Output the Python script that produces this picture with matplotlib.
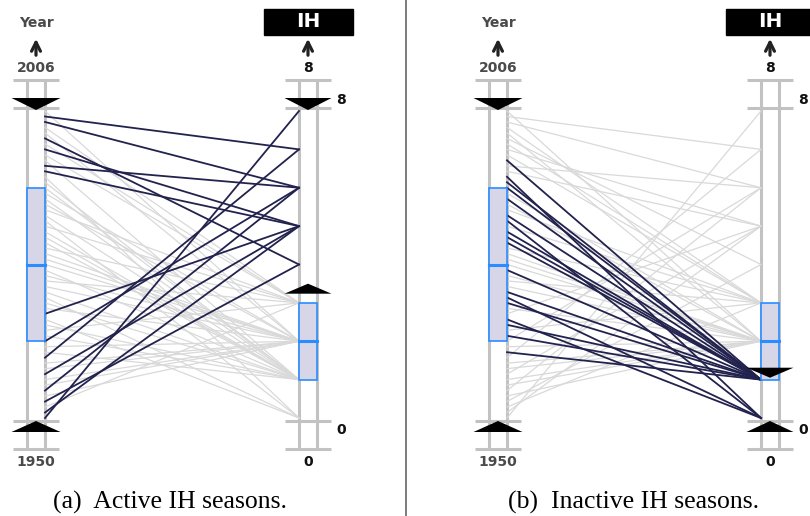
import numpy as np
import matplotlib
matplotlib.use("Agg")
import matplotlib.pyplot as plt
from matplotlib.patches import Rectangle, Polygon
from matplotlib.lines import Line2D

# Atlantic seasons and their count of intense hurricanes (IH)
years = list(range(1950, 2007))
ih = [8, 5, 3, 4, 2, 6, 2, 2, 5, 2,
      2, 7, 1, 2, 6, 1, 3, 1, 0, 5,
      2, 1, 0, 1, 2, 3, 2, 1, 2, 2,
      2, 3, 1, 1, 1, 3, 0, 1, 3, 2,
      1, 2, 1, 1, 0, 5, 6, 1, 3, 5,
      3, 4, 2, 3, 6, 7, 2]
year_range = (1950, 2006)
ih_range = (0, 8)
captions = ["(a)  Active IH seasons.", "(b)  Inactive IH seasons."]
brushes = [(3.5, 8), (0, 1.05)]   # IH range kept by the brush in each panel

years = np.array(years)
ih = np.array(ih)

# pixel scale of one axis unit
SX = 254.0
SY = 307.0
GRAY = "#c2c2c2"
LINE_GRAY = "#d9d9d9"
DARK = "#22224e"
BLUE = "#2a8cff"
FILL = "#d6d6e8"


def py(p):
    # pixel row (from top) -> data y
    return (418 - p) / SY


def dx(p):
    return p / SX


def tri(ax, xc, tip, base, half):
    ax.add_patch(Polygon([(xc - dx(half), py(base)), (xc + dx(half), py(base)),
                          (xc, py(tip))], closed=True, color="black", lw=0,
                         clip_on=False, zorder=6))


def draw_axis(ax, xline, side, lo_txt, hi_txt, txtcol):
    # side = -1 : rails left of the line end, +1 : right of it
    xc = xline + side * dx(9)
    for xr in (xline, xline + side * dx(18)):
        ax.plot([xr, xr], [py(80), py(449)], color=GRAY, lw=2.2, zorder=1,
                solid_capstyle="butt")
    for yb in (80, 108, 421, 449):
        ax.plot([xc - dx(23), xc + dx(23)], [py(yb), py(yb)], color=GRAY,
                lw=2.2, zorder=1, solid_capstyle="butt")
    ax.text(xc, py(68), hi_txt, ha="center", va="center", fontsize=10,
            fontweight="bold", color=txtcol)
    ax.text(xc, py(462), lo_txt, ha="center", va="center", fontsize=10,
            fontweight="bold", color=txtcol)
    ax.annotate("", xy=(xc, py(36)), xytext=(xc, py(58)),
                arrowprops=dict(arrowstyle="->", lw=2.3, color="#222",
                                mutation_scale=16))
    return xc


def boxplot(ax, xline, side, vals, vmin, vmax):
    q1, med, q3 = np.percentile(vals, [25, 50, 75])
    n = lambda v: (v - vmin) / (vmax - vmin)
    x0 = xline if side > 0 else xline - dx(18)
    ax.add_patch(Rectangle((x0, n(q1)), dx(18), n(q3) - n(q1), facecolor=FILL,
                           edgecolor=BLUE, lw=1.2, zorder=4))
    ax.plot([x0, x0 + dx(18)], [n(med), n(med)], color=BLUE, lw=2.2, zorder=5)


fig = plt.figure(figsize=(8.1, 5.16), dpi=100)

yn = (years - year_range[0]) / (year_range[1] - year_range[0])
hn = (ih - ih_range[0]) / (ih_range[1] - ih_range[0])

for k in range(2):
    ax = fig.add_axes([k * 0.5, 0, 0.5, 1])
    x0 = 45 if k == 0 else 102
    ax.set_xlim(-x0 / SX, (405 - x0) / SX)
    ax.set_ylim(py(516), py(0))
    ax.axis("off")

    lo, hi = brushes[k]
    sel = (ih >= lo) & (ih <= hi)
    ax.plot([0, 1], np.vstack([yn[~sel], hn[~sel]]), color=LINE_GRAY,
            lw=0.9, zorder=2)
    ax.plot([0, 1], np.vstack([yn[sel], hn[sel]]), color=DARK, lw=1.3,
            zorder=3)

    # year axis
    xc = draw_axis(ax, 0, -1, str(year_range[0]), str(year_range[1]), "#4a4a4a")
    ax.text(xc, py(23), "Year", ha="center", va="center", fontsize=10,
            fontweight="bold", color="#4a4a4a")
    tri(ax, xc, 110, 98, 24.5)
    tri(ax, xc, 421, 432, 24.5)
    boxplot(ax, 0, -1, years, *year_range)

    # IH axis
    xc = draw_axis(ax, 1, 1, str(ih_range[0]), str(ih_range[1]), "#111111")
    ax.add_patch(Rectangle((xc - dx(44), py(35)), dx(89), py(9) - py(35),
                           color="black", clip_on=False, zorder=6))
    ax.text(xc, py(22), "IH", ha="center", va="center", fontsize=14.5,
            fontweight="bold", color="white", zorder=7)
    ax.text(xc + dx(33), py(100), str(ih_range[1]), ha="center", va="center",
            fontsize=10, fontweight="bold", color="#111111")
    ax.text(xc + dx(33), py(430), str(ih_range[0]), ha="center", va="center",
            fontsize=10, fontweight="bold", color="#111111")
    boxplot(ax, 1, 1, ih, *ih_range)
    hi_v = (hi - ih_range[0]) / (ih_range[1] - ih_range[0])
    lo_v = (lo - ih_range[0]) / (ih_range[1] - ih_range[0])
    if hi < ih_range[1]:
        tip = 418 - hi_v * SY
        tri(ax, xc, tip, tip - 10, 23.5)
    else:
        tri(ax, xc, 110, 98, 23.5)
    if lo > ih_range[0]:
        tip = 418 - lo_v * SY
        tri(ax, xc, tip, tip + 10, 23.5)
    else:
        tri(ax, xc, 421, 432, 23.5)

    fig.text((170 + k * 463.5) / 810, (516 - 509) / 516, captions[k],
             ha="center", va="baseline", fontsize=18.5,
             family="Liberation Serif")

fig.add_artist(Line2D([405.7 / 810] * 2, [0, 1], color="#666666", lw=1.2))

fig.savefig("out.png", dpi=100)
